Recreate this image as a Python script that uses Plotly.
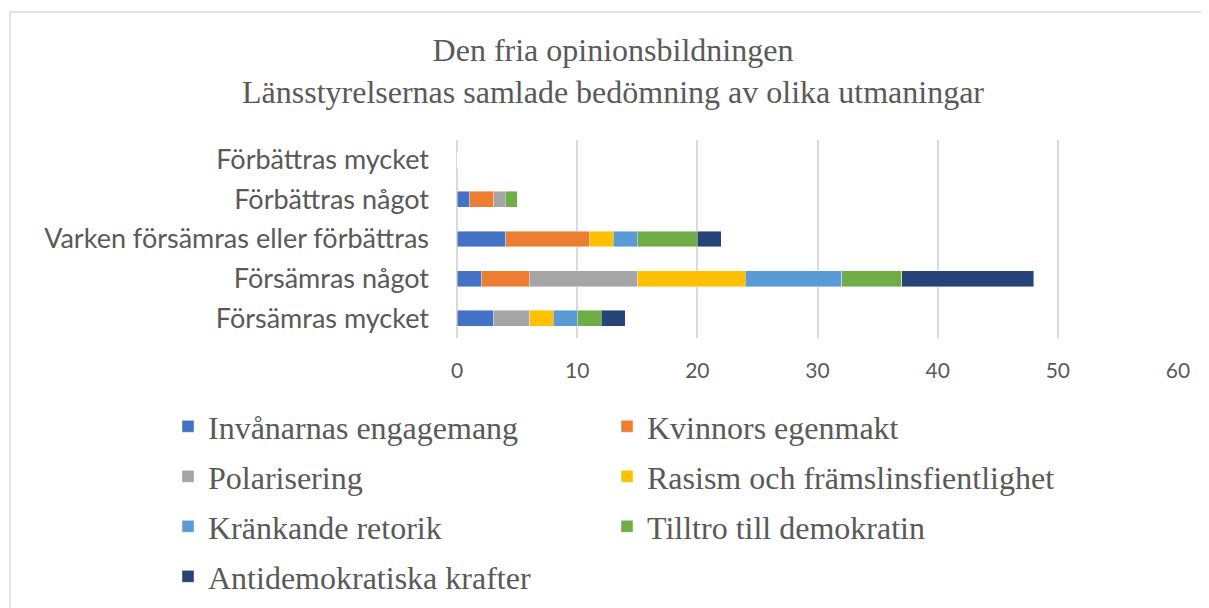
import plotly.graph_objects as go

categories = ["Försämras mycket", "Försämras något", "Varken försämras eller förbättras",
              "Förbättras något", "Förbättras mycket"]

invanarnas = [3, 2, 4, 1, 0]
kvinnors = [0, 4, 7, 2, 0]
polarisering = [3, 9, 0, 1, 0]
rasism = [2, 9, 2, 0, 0]
krankande = [2, 8, 2, 0, 0]
tilltro = [2, 5, 5, 1, 0]
antidemokratiska = [2, 11, 2, 0, 0]

series = [
    ("Invånarnas engagemang", invanarnas, "#4472C4", "legend"),
    ("Kvinnors egenmakt", kvinnors, "#ED7D31", "legend2"),
    ("Polarisering", polarisering, "#A5A5A5", "legend"),
    ("Rasism och främslinsfientlighet", rasism, "#FFC000", "legend2"),
    ("Kränkande retorik", krankande, "#5B9BD5", "legend"),
    ("Tilltro till demokratin", tilltro, "#70AD47", "legend2"),
    ("Antidemokratiska krafter", antidemokratiska, "#264478", "legend"),
]

x_ticks = [0, 10, 20, 30, 40, 50, 60]

W, H = 1209, 608
L, R, T, B = 449, 39, 132, 278

fig = go.Figure()
for name, vals, color, leg in series:
    fig.add_trace(go.Bar(
        y=categories, x=vals, name=name, orientation="h",
        marker=dict(color=color, line=dict(color="rgba(255,255,255,0.7)", width=0.6)),
        legend=leg, legendgroup=name,
    ))

grey = "#595959"
serif = "Liberation Serif"
sans = "Lato"

legend_common = dict(
    orientation="v", xref="container", yref="container", xanchor="left", yanchor="top",
    font=dict(family=serif, size=32, color=grey), bgcolor="rgba(0,0,0,0)",
    traceorder="grouped", tracegroupgap=5.4, itemclick=False, itemdoubleclick=False,
)

pw = W - L - R
ph = H - T - B

fig.update_layout(
    width=W, height=H,
    margin=dict(l=L, r=R, t=T, b=B, autoexpand=False),
    paper_bgcolor="white", plot_bgcolor="white",
    barmode="stack", bargap=0.6,
    title=dict(
        text="Den fria opinionsbildningen<br>Länsstyrelsernas samlade bedömning av olika utmaningar",
        xref="container", yref="container", x=605 / W, y=1 - 53 / H,
        xanchor="center", yanchor="middle",
        font=dict(family=serif, size=32, color=grey),
    ),
    xaxis=dict(
        range=[0, 60], tickvals=x_ticks, ticktext=[str(v) for v in x_ticks],
        showgrid=True, gridcolor="#D9D9D9", gridwidth=1.5,
        zeroline=True, zerolinecolor="#D9D9D9", zerolinewidth=1.5,
        showline=False, ticks="", ticklabelstandoff=18, automargin=False,
        tickfont=dict(family=sans, size=21, color=grey),
        fixedrange=True,
    ),
    yaxis=dict(
        categoryorder="array", categoryarray=categories,
        showgrid=False, zeroline=False, showline=False, ticks="",
        ticklabelstandoff=27, automargin=False,
        tickfont=dict(family=sans, size=27, color=grey),
        fixedrange=True,
    ),
    legend=dict(x=160 / W, y=1 - 391 / H, **legend_common),
    legend2=dict(x=599 / W, y=1 - 391 / H, **legend_common),
    shapes=[dict(
        type="rect", xref="paper", yref="paper",
        x0=(2 - L) / pw, x1=(W + 20 - L) / pw,
        y0=-(H + 20 - (H - B)) / ph, y1=(H - B - 4) / ph,
        line=dict(color="#D9D9D9", width=1.5), fillcolor="rgba(0,0,0,0)", layer="below",
    )],
    showlegend=True,
)

fig.write_html("out.html", config={"displayModeBar": False})
